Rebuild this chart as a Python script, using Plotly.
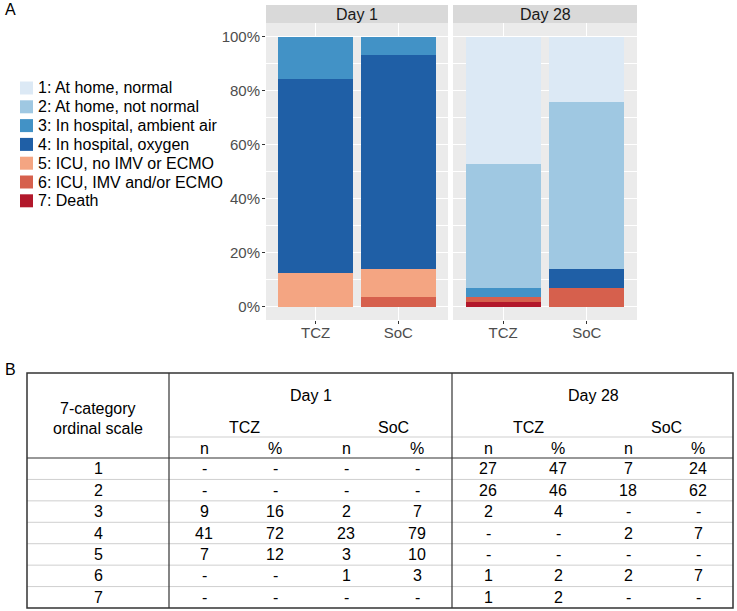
import plotly.graph_objects as go

W, H = 737, 611

# ---------------- data ----------------
categories = ["1: At home, normal", "2: At home, not normal", "3: In hospital, ambient air",
              "4: In hospital, oxygen", "5: ICU, no IMV or ECMO", "6: ICU, IMV and/or ECMO",
              "7: Death"]
scale_levels = ["1", "2", "3", "4", "5", "6", "7"]
colors = ["#DCE9F5", "#9FC8E2", "#4292C6", "#1F5FA6", "#F4A582", "#D6604D", "#B2182B"]
arms = ["TCZ", "SoC"]
days = ["Day 1", "Day 28"]
pct_ticks = [0, 20, 40, 60, 80, 100]
pct_labels = ["0%", "20%", "40%", "60%", "80%", "100%"]

# counts n per category (1..7)
day1_tcz_n = [0, 0, 9, 41, 7, 0, 0]
day1_soc_n = [0, 0, 2, 23, 3, 1, 0]
day28_tcz_n = [27, 26, 2, 0, 0, 1, 1]
day28_soc_n = [7, 18, 0, 2, 0, 2, 0]

# percentages as printed in the table
day1_tcz_pct = [0, 0, 16, 72, 12, 0, 0]
day1_soc_pct = [0, 0, 7, 79, 10, 3, 0]
day28_tcz_pct = [47, 46, 4, 0, 0, 2, 2]
day28_soc_pct = [24, 62, 0, 7, 0, 7, 0]

# ---------------- helpers (pixel -> paper) ----------------
def X(px):
    return px / W

def Y(py):
    return 1 - py / H

FONT = "Liberation Sans, Arial, Helvetica, sans-serif"

fig = go.Figure()

# stacked bars: category 7 at the bottom, 1 on top
for k in reversed(range(7)):
    fig.add_trace(go.Bar(x=arms, y=[day1_tcz_n[k], day1_soc_n[k]], name=categories[k],
                         marker=dict(color=colors[k], line=dict(width=0)),
                         xaxis="x", yaxis="y", showlegend=False))
    fig.add_trace(go.Bar(x=arms, y=[day28_tcz_n[k], day28_soc_n[k]], name=categories[k],
                         marker=dict(color=colors[k], line=dict(width=0)),
                         xaxis="x2", yaxis="y2", showlegend=False))

panel_top, panel_bot = 23, 320
p1 = (266, 448)
p2 = (453, 637)

grid = dict(showgrid=True, gridcolor="white", gridwidth=1.1)
yaxis_common = dict(domain=[Y(panel_bot), Y(panel_top)], range=[-5, 105],
                    tickmode="array", tickvals=pct_ticks, ticktext=pct_labels, zeroline=False,
                    minor=dict(tickvals=[10, 30, 50, 70, 90], showgrid=True,
                               gridcolor="white", gridwidth=0.5),
                    **grid)
xaxis_common = dict(type="category", range=[-0.6, 1.6], ticks="outside", ticklen=3,
                    tickcolor="#333333", tickwidth=1, ticklabelstandoff=-4,
                    tickfont=dict(family=FONT, size=15, color="#4D4D4D"), **grid)

fig.update_layout(
    width=W, height=H, margin=dict(l=0, r=0, t=0, b=0),
    paper_bgcolor="white", plot_bgcolor="#EBEBEB",
    barmode="stack", barnorm="percent", bargap=0.1,
    showlegend=False,
    font=dict(family=FONT),
    xaxis=dict(domain=[X(p1[0]), X(p1[1])], anchor="y", **xaxis_common),
    xaxis2=dict(domain=[X(p2[0]), X(p2[1])], anchor="y2", **xaxis_common),
    yaxis=dict(anchor="x", ticks="outside", ticklen=3, tickcolor="#333333", tickwidth=1,
               ticklabelstandoff=-1,
               tickfont=dict(family=FONT, size=15, color="#4D4D4D"),
               **yaxis_common),
    yaxis2=dict(anchor="x2", matches="y", showticklabels=False, ticks="", **yaxis_common),
)

shapes = []
annotations = []

# facet strips
for (x0, x1), d in zip([p1, p2], days):
    shapes.append(dict(type="rect", xref="paper", yref="paper", x0=X(x0), x1=X(x1),
                       y0=Y(panel_top), y1=Y(5), fillcolor="#D9D9D9", line=dict(width=0),
                       layer="below"))
    annotations.append(dict(text=d, x=X((x0 + x1) / 2), y=Y(14.5), xref="paper", yref="paper",
                            showarrow=False, xanchor="center", yanchor="middle",
                            font=dict(family=FONT, size=16, color="#1A1A1A")))

# panel labels
annotations.append(dict(text="A", x=X(3), y=Y(9), xref="paper", yref="paper", showarrow=False,
                        xanchor="left", yanchor="middle", font=dict(family=FONT, size=16, color="black")))
annotations.append(dict(text="B", x=X(3), y=Y(369), xref="paper", yref="paper", showarrow=False,
                        xanchor="left", yanchor="middle", font=dict(family=FONT, size=16, color="black")))

# legend (drawn from categories/colors lists)
for i, (lab, col) in enumerate(zip(categories, colors)):
    cy = 88 + 18.8 * i
    shapes.append(dict(type="rect", xref="paper", yref="paper", x0=X(20), x1=X(33),
                       y0=Y(cy + 6.5), y1=Y(cy - 6.5), fillcolor=col, line=dict(width=0)))
    annotations.append(dict(text=lab, x=X(36), y=Y(cy), xref="paper", yref="paper",
                            showarrow=False, xanchor="left", yanchor="middle",
                            font=dict(family=FONT, size=16, color="black")))

# ---------------- table ----------------
TL, TR, TT, TB = 27, 733, 373, 608
VSEP1, VSEP2 = 169, 452
HEAD = 458
dark = "#333333"
light = "#CFCFCF"

def hline(y, x0, x1, color, w):
    shapes.append(dict(type="line", xref="paper", yref="paper", x0=X(x0), x1=X(x1),
                       y0=Y(y), y1=Y(y), line=dict(color=color, width=w)))

def vline(x, y0, y1, color, w):
    shapes.append(dict(type="line", xref="paper", yref="paper", x0=X(x), x1=X(x),
                       y0=Y(y0), y1=Y(y1), line=dict(color=color, width=w)))

row_h = (TB - HEAD) / 7
for i in range(1, 7):
    hline(HEAD + row_h * i, TL, TR, light, 1)
hline(437, VSEP1, TR, light, 1)
hline(HEAD, TL, TR, dark, 1.2)
vline(VSEP1, TT, TB, dark, 1.2)
vline(VSEP2, TT, TB, dark, 1.2)
shapes.append(dict(type="rect", xref="paper", yref="paper", x0=X(TL), x1=X(TR),
                   y0=Y(TB), y1=Y(TT), line=dict(color=dark, width=1.5)))

def txt(t, x, y, size=16):
    annotations.append(dict(text=t, x=X(x), y=Y(y), xref="paper", yref="paper",
                            showarrow=False, xanchor="center", yanchor="middle",
                            font=dict(family=FONT, size=size, color="black")))

txt("7-category", 98, 408)
txt("ordinal scale", 98, 428)
txt(days[0], 311, 396)
txt(days[1], 593, 396)
txt(arms[0], 244, 427)
txt(arms[1], 393, 427)
txt(arms[0], 528, 427)
txt(arms[1], 666, 427)

col_x = [204, 275, 346, 417, 488, 558, 628, 698]
for cx, h in zip(col_x, ["n", "%"] * 4):
    txt(h, cx, 448)

table_cols = [day1_tcz_n, day1_tcz_pct, day1_soc_n, day1_soc_pct,
              day28_tcz_n, day28_tcz_pct, day28_soc_n, day28_soc_pct]
for r, lvl in enumerate(scale_levels):
    cy = HEAD + row_h * (r + 0.5)
    txt(lvl, 98, cy)
    for cx, col in zip(col_x, table_cols):
        v = col[r]
        txt("-" if v == 0 else str(v), cx, cy)

fig.update_layout(shapes=shapes, annotations=annotations)
# remove the default 8px page margin so the 737x611 figure fills the window exactly
fig.write_html("out.html", config={"displayModeBar": False},
               post_script="document.body.style.margin='0';")
